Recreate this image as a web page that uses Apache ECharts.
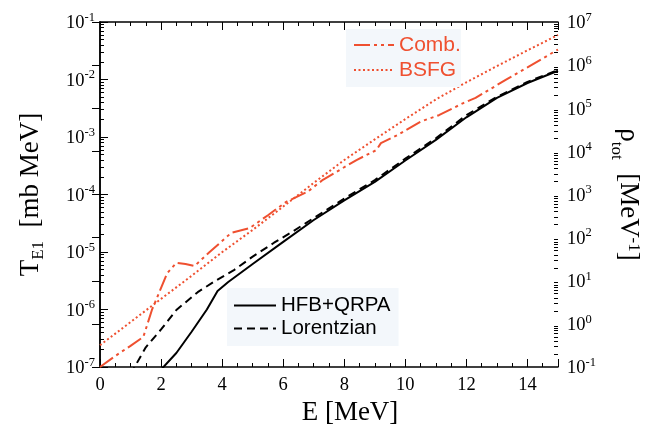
<!DOCTYPE html>
<html>
<head>
<meta charset="utf-8">
<script src="https://cdn.jsdelivr.net/npm/echarts@6/dist/echarts.min.js"></script>
<style>html,body{margin:0;padding:0;background:#fff}#c{width:651px;height:424px}</style>
</head>
<body>
<div id="c"></div>
<script>
// ---- data ----
const xTicksLabels = [0, 2, 4, 6, 8, 10, 12, 14];
const leftDecades = [-7, -6, -5, -4, -3, -2, -1];
const rightDecades = [-1, 0, 1, 2, 3, 4, 5, 6, 7];

const E_hfb = [2.0, 2.5, 3.0, 3.5, 3.85, 4.2, 5.0, 6.0, 7.0, 8.0, 9.0, 10.0, 11.0, 12.0, 13.0, 14.0, 15.0];
const T_hfb = [9.0e-8, 1.75e-7, 4.1e-7, 1.0e-6, 2.1e-6, 3.0e-6, 6.2e-6, 1.5e-5, 3.6e-5, 7.9e-5, 1.66e-4, 3.9e-4, 8.9e-4, 2.2e-3, 4.8e-3, 8.7e-3, 1.42e-2];

const E_lor = [1.0, 1.5, 2.0, 2.5, 3.2, 3.8, 4.4, 5.0, 5.7, 6.3, 7.0, 8.0, 9.0, 10.0, 11.0, 12.0, 13.0, 14.0, 15.0];
const T_lor = [7.5e-8, 2.2e-7, 4.5e-7, 9.8e-7, 2.0e-6, 3.2e-6, 4.9e-6, 8.3e-6, 1.45e-5, 2.25e-5, 3.9e-5, 8.5e-5, 1.78e-4, 4.2e-4, 9.5e-4, 2.4e-3, 5.0e-3, 9.1e-3, 1.46e-2];

const E_comb = [0.0, 0.5, 1.0, 1.42, 1.7, 2.2, 2.5, 2.8, 3.1, 3.6, 4.3, 4.9, 5.5, 6.1, 6.8, 7.3, 8.4, 9.05, 9.2, 9.75, 10.5, 11.1, 11.9, 12.3, 13.3, 14.0, 15.0];
const R_comb = [0.1, 0.18, 0.31, 0.50, 2.1, 15, 26, 24.5, 22, 47, 129, 166, 331, 676, 1160, 2190, 6300, 1.07e4, 1.55e4, 2.4e4, 4.9e4, 6.9e4, 1.32e5, 1.74e5, 4.6e5, 8.9e5, 2.3e6];

const E_bsfg = [0, 1, 2, 3, 4, 5, 6, 7, 8, 9, 10, 11, 12, 13, 14, 15];
const R_bsfg = [0.32, 1.1, 3.8, 13, 46, 151, 525, 1860, 6300, 1.9e4, 5.6e4, 1.6e5, 4.0e5, 9.5e5, 2.2e6, 5.0e6];

const RED = '#ef5030';
const SERIF = 'Liberation Serif';
const SANS = 'Liberation Sans';

function zip(a, b) { return a.map((v, i) => [v, b[i]]); }
function minorVals(decs) {
  const out = [];
  for (let i = 0; i < decs.length - 1; i++) {
    for (let m = 2; m <= 9; m++) out.push(m * Math.pow(10, decs[i]));
  }
  return out;
}
const expLabel = {
  fontFamily: SERIF,
  color: '#000',
  formatter: v => '{b|10}{s|' + Math.round(Math.log10(v)) + '}',
  rich: {
    b: { fontFamily: SERIF, fontSize: 18.5, color: '#000', lineHeight: 22, verticalAlign: 'bottom' },
    s: { fontFamily: SERIF, fontSize: 12.5, color: '#000', lineHeight: 12, verticalAlign: 'top' }
  }
};
const axLine = { show: true, lineStyle: { color: '#000', width: 1.5 } };
const noSym = { opacity: 0, color: 'transparent', borderWidth: 0 };

const chart = echarts.init(document.getElementById('c'), null, { renderer: 'canvas' });
chart.setOption({
  animation: false,
  backgroundColor: '#fff',
  grid: { left: 100, right: 93, top: 22, bottom: 57, containLabel: false, outerBoundsMode: 'none' },
  legend: [
    {
      data: ['Comb.', 'BSFG'], left: 346, top: 29, orient: 'vertical',
      backgroundColor: '#f3f7fb', padding: [5, 0, 6, 7], itemGap: 3,
      itemWidth: 40, itemHeight: 14, selectedMode: false, itemStyle: noSym,
      textStyle: { color: RED, fontFamily: SANS, fontSize: 21, lineHeight: 22 }
    },
    {
      data: ['HFB+QRPA', 'Lorentzian'], left: 227, top: 288, orient: 'vertical',
      backgroundColor: '#f3f7fb', padding: [7, 8, 7, 6], itemGap: 2,
      itemWidth: 42, itemHeight: 14, selectedMode: false, itemStyle: noSym,
      textStyle: { color: '#000', fontFamily: SANS, fontSize: 20.5, lineHeight: 21 }
    }
  ],
  xAxis: [
    {
      type: 'value', min: 0, max: 15, interval: 2, position: 'bottom',
      name: 'E [MeV]', nameLocation: 'middle', nameGap: 32,
      nameTextStyle: { fontFamily: SERIF, fontSize: 27, color: '#000', padding: [0, 0, 0, 42] },
      axisLine: axLine,
      axisTick: { show: true, inside: true, length: 8, lineStyle: { color: '#000', width: 1 } },
      minorTick: { show: true, splitNumber: 4, length: 4, lineStyle: { color: '#000', width: 1 } },
      splitLine: { show: false },
      axisLabel: { show: true, showMaxLabel: false, margin: 9, fontFamily: SERIF, fontSize: 18.5, color: '#000' }
    },
    {
      type: 'value', min: 0, max: 15, interval: 2, position: 'top',
      axisLine: axLine,
      axisTick: { show: true, inside: true, length: 8, lineStyle: { color: '#000', width: 1 } },
      minorTick: { show: true, splitNumber: 4, length: 4, lineStyle: { color: '#000', width: 1 } },
      splitLine: { show: false },
      axisLabel: { show: false }
    }
  ],
  yAxis: [
    {
      type: 'log', logBase: 10, min: 1e-7, max: 1e-1, position: 'left',
      name: '{t|T}{sub|E1}{t|  [mb MeV]}', nameLocation: 'middle', nameRotate: 90, nameGap: 53,
      nameTextStyle: {
        rich: {
          t: { fontFamily: SERIF, fontSize: 27, color: '#000', lineHeight: 30, verticalAlign: 'top' },
          sub: { fontFamily: SERIF, fontSize: 17, color: '#000', lineHeight: 17, verticalAlign: 'bottom' }
        }
      },
      axisLine: axLine,
      axisTick: { show: true, inside: true, length: 8, lineStyle: { color: '#000', width: 1 } },
      splitLine: { show: false },
      axisLabel: Object.assign({ margin: 5 }, expLabel)
    },
    {
      type: 'log', logBase: 10, min: 1e-1, max: 1e7, position: 'right',
      name: '{t|ρ}{sub|tot}{t|  [MeV}{sup|-1}{t|]}', nameLocation: 'middle', nameRotate: -90, nameGap: 50,
      nameTextStyle: {
        rich: {
          t: { fontFamily: SERIF, fontSize: 27, color: '#000', lineHeight: 34, verticalAlign: 'top' },
          sub: { fontFamily: SERIF, fontSize: 17, color: '#000', lineHeight: 17, verticalAlign: 'bottom' },
          sup: { fontFamily: SERIF, fontSize: 17, color: '#000', lineHeight: 17, verticalAlign: 'top' }
        }
      },
      axisLine: axLine,
      axisTick: { show: true, inside: true, length: 8, lineStyle: { color: '#000', width: 1 } },
      splitLine: { show: false },
      axisLabel: Object.assign({ margin: 9 }, expLabel)
    },
    {
      type: 'log', logBase: 10, min: 1e-7, max: 1e-1, position: 'left',
      axisLine: { show: false },
      axisTick: { show: true, inside: true, length: 4, customValues: minorVals(leftDecades), lineStyle: { color: '#000', width: 1 } },
      splitLine: { show: false },
      axisLabel: { show: false }
    },
    {
      type: 'log', logBase: 10, min: 1e-1, max: 1e7, position: 'right',
      axisLine: { show: false },
      axisTick: { show: true, inside: true, length: 4, customValues: minorVals(rightDecades), lineStyle: { color: '#000', width: 1 } },
      splitLine: { show: false },
      axisLabel: { show: false }
    }
  ],
  series: [
    {
      name: 'HFB+QRPA', type: 'line', xAxisIndex: 0, yAxisIndex: 0, data: zip(E_hfb, T_hfb),
      symbol: 'none', showSymbol: false, clip: true, color: '#000',
      lineStyle: { color: '#000', width: 2, type: 'solid' }
    },
    {
      name: 'Lorentzian', type: 'line', xAxisIndex: 0, yAxisIndex: 0, data: zip(E_lor, T_lor),
      symbol: 'none', showSymbol: false, clip: true, color: '#000',
      lineStyle: { color: '#000', width: 2, type: [8, 5] }
    },
    {
      name: 'Comb.', type: 'line', xAxisIndex: 0, yAxisIndex: 1, data: zip(E_comb, R_comb),
      symbol: 'none', showSymbol: false, clip: true, color: RED,
      lineStyle: { color: RED, width: 2, type: [16, 4, 3, 4, 3, 4] }
    },
    {
      name: 'BSFG', type: 'line', xAxisIndex: 0, yAxisIndex: 1, data: zip(E_bsfg, R_bsfg),
      symbol: 'none', showSymbol: false, clip: true, color: RED,
      lineStyle: { color: RED, width: 2, type: [2, 2.5] }
    }
  ]
});
</script>
</body>
</html>
